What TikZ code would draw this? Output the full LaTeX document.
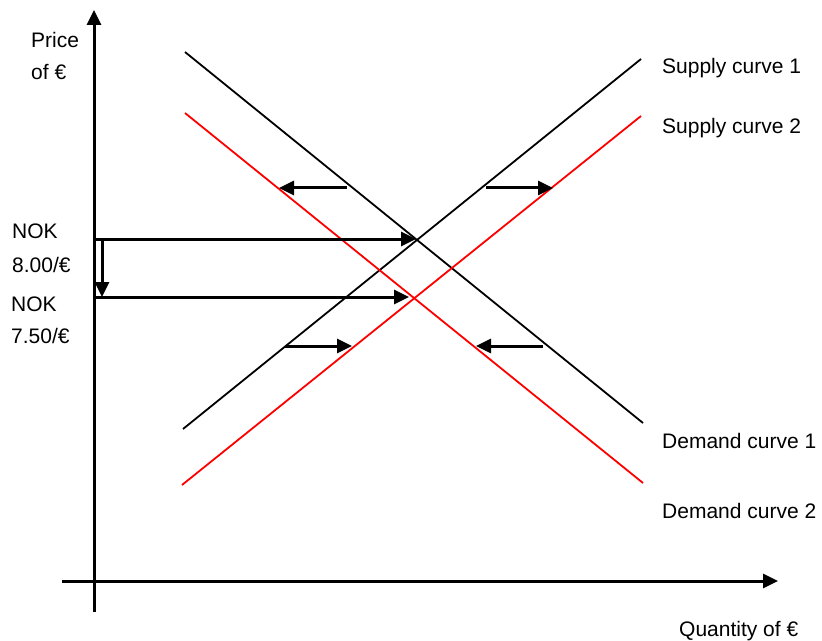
\documentclass[tikz,border=0pt]{standalone}
\usepackage{fontspec}
\setmainfont{Liberation Sans}
\usetikzlibrary{arrows.meta}

\begin{document}
\begin{tikzpicture}
[x=1bp,y=-1bp,axis/.style={line width=3bp,-{Triangle[length=15bp,width=14bp]}},curve/.style={line width=1.8bp},movearrow/.style={line width=3bp,-{Triangle[length=15bp,width=14bp]}},lbl/.style={anchor=base west,inner sep=0pt,font=\fontsize{21bp}{25bp}\selectfont},]
\useasboundingbox (0,0) rectangle (822,641);
% axes
\coordinate (yfoot) at (94,612);
\coordinate (ytip) at (94,10);
\coordinate (xfoot) at (62,581);
\coordinate (xtip) at (778,581);
\draw[axis] (yfoot) -- (ytip);
\draw[axis] (xfoot) -- (xtip);
% curves
\coordinate (d1a) at (185,52);  \coordinate (d1b) at (643,423);
\coordinate (d2a) at (185,113); \coordinate (d2b) at (643,483);
\coordinate (s1a) at (183,429); \coordinate (s1b) at (641,59);
\coordinate (s2a) at (182,485); \coordinate (s2b) at (641,116);
\draw[curve] (d1a) -- (d1b);
\draw[curve] (s1a) -- (s1b);
\draw[curve,red] (d2a) -- (d2b);
\draw[curve,red] (s2a) -- (s2b);
% equilibrium prices
\coordinate (p1) at (94,239);  \coordinate (eq1) at (416,239);
\coordinate (p2) at (94,297);  \coordinate (eq2) at (409,297);
\coordinate (drop1) at (102,239); \coordinate (drop2) at (102,297);
\draw[movearrow] (p1) -- (eq1);
\draw[movearrow] (p2) -- (eq2);
\draw[movearrow] (drop1) -- (drop2);
% shifts
\coordinate (dl1) at (347,188); \coordinate (dl2) at (279,188);
\coordinate (sr1) at (486,188); \coordinate (sr2) at (553,188);
\coordinate (sl1) at (285,346); \coordinate (sl2) at (352,346);
\coordinate (dr1) at (543,346); \coordinate (dr2) at (476,346);
\draw[movearrow] (dl1) -- (dl2);
\draw[movearrow] (sr1) -- (sr2);
\draw[movearrow] (sl1) -- (sl2);
\draw[movearrow] (dr1) -- (dr2);
% labels
\node[lbl] (price) at (31,48) {Price};
\node[lbl] (priceof) at (31,80) {of €};
\node[lbl] (nok1) at (12,239) {NOK};
\node[lbl] (rate1) at (12,272) {8.00/€};
\node[lbl] (nok2) at (11,311) {NOK};
\node[lbl] (rate2) at (11,343) {7.50/€};
\node[lbl] (supply1) at (662,74) {Supply curve 1};
\node[lbl] (supply2) at (662,134) {Supply curve 2};
\node[lbl] (demand1) at (662,448) {Demand curve 1};
\node[lbl] (demand2) at (662,518) {Demand curve 2};
\node[lbl] (qty) at (679,636) {Quantity of €};
\end{tikzpicture}
\end{document}
